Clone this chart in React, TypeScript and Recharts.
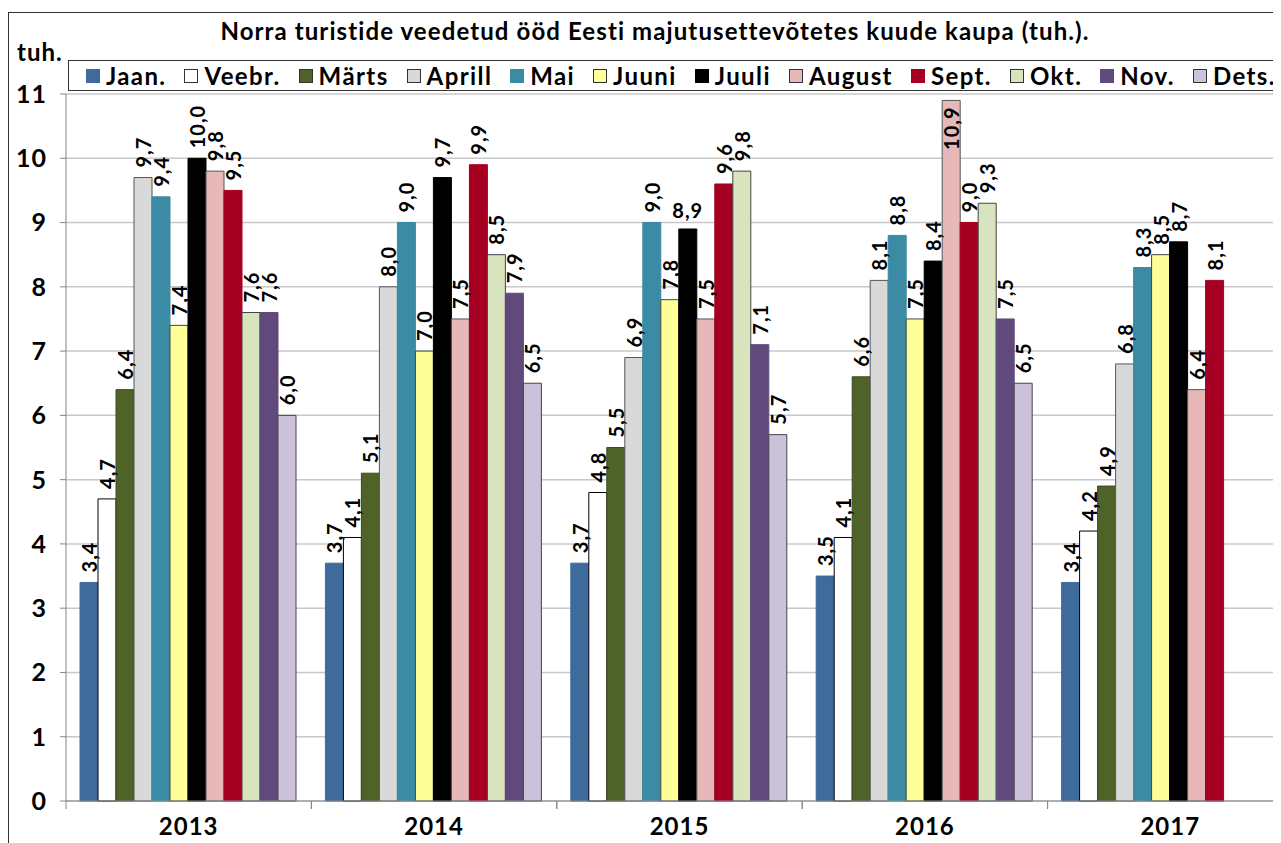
import { BarChart, Bar, XAxis, YAxis, CartesianGrid, LabelList } from 'recharts';

// Years on the category axis
const YEARS = ['2013', '2014', '2015', '2016', '2017'];

// Month series (legend order)
const MONTHS = ['Jaan.', 'Veebr.', 'Märts', 'Aprill', 'Mai', 'Juuni', 'Juuli', 'August', 'Sept.', 'Okt.', 'Nov.', 'Dets.'];

// Nights per year, Jan..Dec (thousands)
const Y2013 = [3.4, 4.7, 6.4, 9.7, 9.4, 7.4, 10.0, 9.8, 9.5, 7.6, 7.6, 6.0];
const Y2014 = [3.7, 4.1, 5.1, 8.0, 9.0, 7.0, 9.7, 7.5, 9.9, 8.5, 7.9, 6.5];
const Y2015 = [3.7, 4.8, 5.5, 6.9, 9.0, 7.8, 8.9, 7.5, 9.6, 9.8, 7.1, 5.7];
const Y2016 = [3.5, 4.1, 6.6, 8.1, 8.8, 7.5, 8.4, 10.9, 9.0, 9.3, 7.5, 6.5];
const Y2017 = [3.4, 4.2, 4.9, 6.8, 8.3, 8.5, 8.7, 6.4, 8.1, null, null, null];

const Y_TICKS = [0, 1, 2, 3, 4, 5, 6, 7, 8, 9, 10, 11];

const TITLE = 'Norra turistide veedetud ööd Eesti majutusettevõtetes kuude kaupa (tuh.).';

const FILLS = ['#3F6A9C', '#FFFFFF', '#4F6228', '#D9D9D9', '#3A8BA3', '#FFFF99', '#000000', '#E6B9B8', '#A50021', '#D7E4BD', '#604A7B', '#CCC1DA'];
const STROKES = ['#3F6A9C', '#000000', '#3b4a1e', '#555555', '#3A8BA3', '#444444', '#000000', '#555555', '#A50021', '#444444', '#604A7B', '#444444'];

// label drawn flat instead of rotated (as in the original)
const FLAT_LABELS = ['2015|Juuli'];

const FONT = 'Lato, "Liberation Sans", sans-serif';

const allYears = [Y2013, Y2014, Y2015, Y2016, Y2017];
const chartData = YEARS.map((year, yi) => {
  const row: Record<string, any> = { year };
  MONTHS.forEach((m, mi) => {
    row[m] = allYears[yi][mi];
  });
  return row;
});

const fmt = (v: number) => v.toFixed(1).replace('.', ',');

const makeLabel = (month: string) => (props: any) => {
  const { x, y, width, value, index } = props;
  if (value == null) return null;
  const cx = Number(x) + Number(width) / 2;
  const top = Number(y);
  const text = fmt(Number(value));
  const common = { fontFamily: FONT, fontWeight: 700, fontSize: 20, letterSpacing: 1, fill: '#000' };
  if (FLAT_LABELS.includes(`${YEARS[index]}|${month}`)) {
    return (
      <text x={cx} y={top - 11} textAnchor="middle" {...common}>
        {text}
      </text>
    );
  }
  const inside = Number(value) >= 10.5;
  const ty = inside ? top + 6 : top - 10;
  return (
    <text
      x={cx}
      y={ty}
      transform={`rotate(-90 ${cx} ${ty})`}
      textAnchor={inside ? 'end' : 'start'}
      dominantBaseline="central"
      {...common}
    >
      {text}
    </text>
  );
};

const YearTick = (props: any) => {
  const { x, y, payload, width } = props;
  const band = (Number(width) || 1227) / YEARS.length;
  const axisY = y - 17;
  return (
    <g>
      <line x1={x - band / 2} x2={x - band / 2} y1={axisY} y2={axisY + 8} stroke="#868686" />
      <line x1={x + band / 2} x2={x + band / 2} y1={axisY} y2={axisY + 8} stroke="#868686" />
      <text x={x} y={y} dy="0.72em" textAnchor="middle" fontFamily={FONT} fontWeight={700} fontSize={24} letterSpacing={1} fill="#000">
        {payload.value}
      </text>
    </g>
  );
};

export default function App() {
  return (
    <div style={{ position: 'relative', width: 1273, height: 835, overflow: 'hidden', background: '#fff' }}>
      <div
        style={{
          position: 'absolute',
          left: 0,
          top: 4,
          width: 1400,
          height: 900,
          border: '1.5px solid #333',
          boxSizing: 'border-box',
        }}
      />
      <div
        style={{
          position: 'absolute',
          left: 0,
          top: 11,
          width: 1294,
          textAlign: 'center',
          fontFamily: FONT,
          fontWeight: 700,
          fontSize: 24,
          letterSpacing: 1.1,
          lineHeight: '24px',
          whiteSpace: 'nowrap',
        }}
      >
        {TITLE}
      </div>
      <div
        style={{
          position: 'absolute',
          left: 9,
          top: 32,
          fontFamily: FONT,
          fontWeight: 700,
          fontSize: 24,
          letterSpacing: 1,
          lineHeight: '24px',
        }}
      >
        tuh.
      </div>
      <div
        style={{
          position: 'absolute',
          left: 60,
          top: 52,
          width: 1300,
          height: 31,
          border: '1.5px solid #333',
          boxSizing: 'border-box',
          display: 'flex',
          alignItems: 'center',
          paddingLeft: 17,
          fontFamily: FONT,
          fontWeight: 700,
          fontSize: 24,
          letterSpacing: 1.4,
          whiteSpace: 'nowrap',
          zIndex: 2,
          background: '#fff',
        }}
      >
        {MONTHS.map((m, i) => (
          <span key={m} style={{ display: 'inline-flex', alignItems: 'center', marginRight: 18 }}>
            <span
              style={{
                display: 'inline-block',
                width: 14,
                height: 14,
                background: FILLS[i],
                border: `1px solid ${STROKES[i] === FILLS[i] ? FILLS[i] : '#333'}`,
                boxSizing: 'border-box',
                marginRight: 6,
              }}
            />
            {m}
          </span>
        ))}
      </div>
      <div style={{ position: 'absolute', left: 0, top: 0 }}>
        <BarChart
          width={1290}
          height={850}
          data={chartData}
          margin={{ top: 86, right: 5, left: 8, bottom: 27 }}
          barCategoryGap={14}
          barGap={0}
        >
          <CartesianGrid horizontal vertical={false} stroke="#C8C8C8" strokeWidth={1.5} />
          <XAxis
            dataKey="year"
            height={30}
            stroke="#868686"
            tickLine={false}
            tickSize={0}
            tickMargin={17}
            interval={0}
            tick={<YearTick />}
          />
          <YAxis
            width={50}
            domain={[0, 11]}
            ticks={Y_TICKS}
            interval={0}
            stroke="#868686"
            tickSize={6}
            tickMargin={13}
            tick={{ fontFamily: FONT, fontWeight: 700, fontSize: 25, letterSpacing: 1, fill: '#000' }}
          />
          {MONTHS.map((m, i) => (
            <Bar
              key={m}
              dataKey={m}
              fill={FILLS[i]}
              stroke={STROKES[i]}
              strokeWidth={1}
              isAnimationActive={false}
            >
              <LabelList dataKey={m} content={makeLabel(m)} />
            </Bar>
          ))}
        </BarChart>
      </div>
    </div>
  );
}
